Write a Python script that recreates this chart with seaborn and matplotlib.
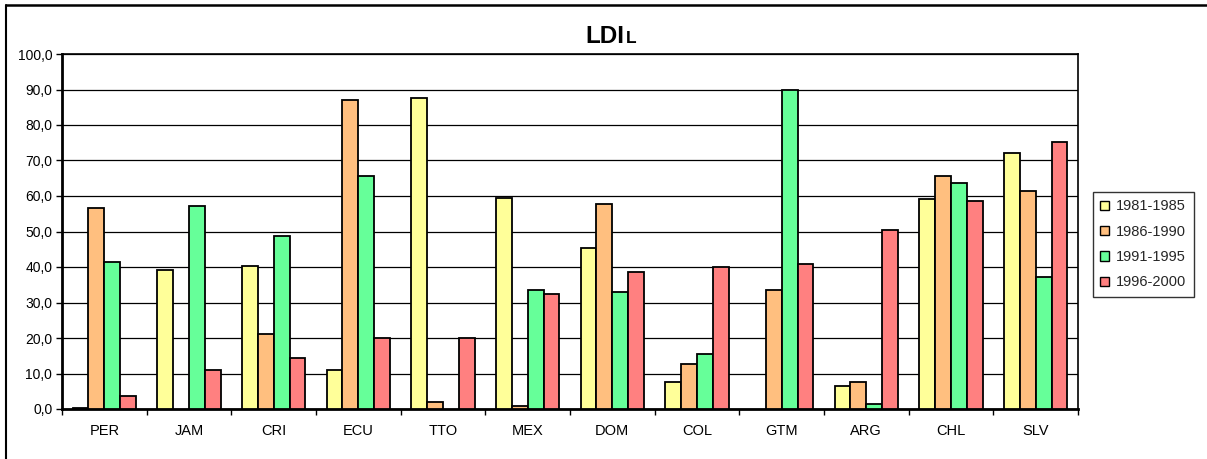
import numpy as np
import pandas as pd
import matplotlib
matplotlib.use("Agg")
import matplotlib.pyplot as plt
from matplotlib.lines import Line2D
from matplotlib.ticker import FuncFormatter, FixedLocator
import seaborn as sns

countries = ["PER", "JAM", "CRI", "ECU", "TTO", "MEX", "DOM", "COL", "GTM", "ARG", "CHL", "SLV"]
periods = ["1981-1985", "1986-1990", "1991-1995", "1996-2000"]
v1981 = [0.4, 39.2, 40.2, 10.9, 87.5, 59.3, 45.3, 7.5, np.nan, 6.4, 59.2, 72.2]
v1986 = [56.6, np.nan, 21.0, 87.0, 2.0, 0.9, 57.7, 12.8, 33.5, 7.6, 65.5, 61.5]
v1991 = [41.4, 57.3, 48.7, 65.6, np.nan, 33.5, 32.9, 15.4, 89.9, 1.3, 63.8, 37.3]
v1996 = [3.7, 10.9, 14.3, 19.9, 19.9, 32.3, 38.6, 40.1, 40.8, 50.3, 58.7, 75.1]
colors = ["#FFFF99", "#FFBF7F", "#66FF99", "#FF8080"]

rows = []
for p, vals in zip(periods, [v1981, v1986, v1991, v1996]):
    for c, v in zip(countries, vals):
        rows.append({"country": c, "period": p, "value": v})
df = pd.DataFrame(rows)

sns.set_theme(style="white")
plt.rcParams["font.family"] = ["Liberation Sans", "DejaVu Sans"]

fig = plt.figure(figsize=(12.07, 4.59), dpi=100)
ax = fig.add_axes([62/1207, 1-409/459, (1078-62)/1207, (409-54)/459])

sns.barplot(data=df, x="country", y="value", hue="period", order=countries,
            hue_order=periods, palette=colors, width=0.75, gap=0,
            edgecolor="black", linewidth=1.3, errorbar=None, saturation=1,
            ax=ax, zorder=3)

ax.set_ylim(0, 100)
ax.set_xlim(-0.5, len(countries) - 0.5)
ax.set_yticks(np.arange(0, 101, 10))
ax.yaxis.set_major_formatter(FuncFormatter(lambda v, p: f"{v:.1f}".replace(".", ",")))
ax.grid(axis="y", color="black", linewidth=0.9, zorder=0)
ax.set_axisbelow(True)
ax.set_xlabel("")
ax.set_ylabel("")
for s in ax.spines.values():
    s.set_color("black")
    s.set_linewidth(1.2)
ax.spines["left"].set_linewidth(2)
ax.spines["bottom"].set_linewidth(2)

ax.tick_params(axis="y", which="major", left=True, length=4, width=1, color="black",
               labelsize=10, pad=3, labelcolor="black")
ax.tick_params(axis="x", which="major", bottom=False, length=0, labelsize=10.5, pad=11,
               labelcolor="black")
ax.xaxis.set_minor_locator(FixedLocator(np.arange(-0.5, len(countries), 1.0)))
ax.tick_params(axis="x", which="minor", bottom=True, length=4, width=1, color="black")

leg = ax.legend(loc="upper left", bbox_to_anchor=(1093/1207, 1-192/459),
                bbox_transform=fig.transFigure, frameon=True, fancybox=False,
                fontsize=10.5, handlelength=0.6, handleheight=0.6, handletextpad=0.5,
                labelspacing=0.78, borderpad=0.5, borderaxespad=0, title=None)
leg.get_frame().set_edgecolor("black")
leg.get_frame().set_linewidth(1)
for h in leg.legend_handles:
    h.set_edgecolor("black")
    h.set_linewidth(1)

fig.text(624/1207, 1-43/459, "LDI", ha="right", va="baseline", fontsize=17.5,
         fontweight="bold", color="black")
fig.text(626/1207, 1-43/459, "L", ha="left", va="baseline", fontsize=12.5,
         fontweight="bold", color="black")

fig.add_artist(Line2D([6/1207, 1.0], [1-4.5/459, 1-4.5/459], transform=fig.transFigure,
                      color="black", linewidth=1.8))
fig.add_artist(Line2D([6/1207, 6/1207], [0.0, 1-4.5/459], transform=fig.transFigure,
                      color="black", linewidth=1.5))

fig.savefig("out.png", dpi=100)
